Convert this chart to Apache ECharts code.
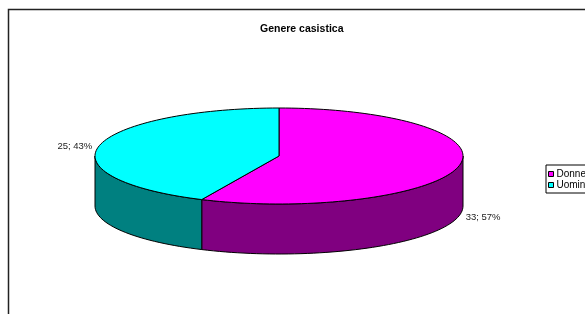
<!DOCTYPE html>
<html>
<head>
<meta charset="utf-8">
<script src="https://cdn.jsdelivr.net/npm/echarts@6/dist/echarts.min.js"></script>
<style>
html, body { margin: 0; padding: 0; background: #fff; }
#main { width: 585px; height: 314px; }
</style>
</head>
<body>
<div id="main"></div>
<script>
var categories = ['Donne', 'Uomini'];
var values = [33, 25];
var topColors = ['#ff00ff', '#00ffff'];
var sideColors = ['#800080', '#008080'];

var total = values.reduce(function (a, b) { return a + b; }, 0);
// flat 3d pie: ellipse + thickness
var pie = { cx: 279, cy: 156, rx: 184, ry: 48, depth: 50 };

function pt(deg, dy) {
  var r = deg * Math.PI / 180;
  return [pie.cx + pie.rx * Math.sin(r), pie.cy - pie.ry * Math.cos(r) + (dy || 0)];
}
function arc(a0, a1, dy) {
  var pts = [], n = Math.max(2, Math.ceil(Math.abs(a1 - a0) / 2));
  for (var k = 0; k <= n; k++) pts.push(pt(a0 + (a1 - a0) * k / n, dy));
  return pts;
}

function renderSlice(params, api) {
  var i = params.seriesIndex;
  var v = api.value(0);
  var before = 0;
  for (var j = 0; j < i; j++) before += values[j];
  var a0 = before / total * 360, a1 = (before + v) / total * 360;
  var children = [];
  // front side only (between 90 and 270 deg clockwise from top)
  var lo = Math.max(a0, 90), hi = Math.min(a1, 270);
  if (lo < hi) {
    children.push({
      type: 'polygon', z2: 1,
      shape: { points: arc(lo, hi, 0).concat(arc(hi, lo, pie.depth)) },
      style: { fill: sideColors[i], stroke: '#000', lineWidth: 1 }
    });
  }
  children.push({
    type: 'polygon', z2: 5,
    shape: { points: [[pie.cx, pie.cy]].concat(arc(a0, a1, 0)) },
    style: { fill: topColors[i], stroke: '#000', lineWidth: 1 }
  });
  var mid = (a0 + a1) / 2, r = mid * Math.PI / 180;
  var lp = pt(mid, Math.cos(r) < 0 ? pie.depth : 0);
  var right = Math.sin(r) >= 0;
  children.push({
    type: 'text', z2: 10,
    x: lp[0] + (right ? 7 : -7), y: lp[1] + 1,
    style: {
      text: v + '; ' + Math.round(v / total * 100) + '%',
      align: right ? 'left' : 'right', verticalAlign: 'middle',
      fontFamily: '"Liberation Sans", Arial, sans-serif', fontSize: 9.5, fill: '#222'
    }
  });
  return { type: 'group', children: children };
}

var series = categories.map(function (name, i) {
  return {
    type: 'custom',
    name: name,
    coordinateSystem: 'none',
    itemStyle: { color: topColors[i] },
    data: [[values[i]]],
    renderItem: renderSlice,
    silent: true
  };
});

var chart = echarts.init(document.getElementById('main'));
chart.setOption({
  animation: false,
  backgroundColor: '#fff',
  title: {
    text: 'Genere casistica',
    left: 260, top: 24, padding: 0,
    textStyle: { fontFamily: '"Liberation Sans", Arial, sans-serif', fontSize: 10.5, fontWeight: 'bold', color: '#000' }
  },
  legend: {
    orient: 'vertical',
    left: 546, top: 165,
    padding: [4, 6, 3, 2],
    itemWidth: 5, itemHeight: 5, itemGap: 1,
    icon: 'rect',
    backgroundColor: '#fff',
    borderColor: '#000', borderWidth: 1,
    itemStyle: { borderColor: '#000', borderWidth: 1 },
    textStyle: { fontFamily: '"Liberation Sans", Arial, sans-serif', fontSize: 10, lineHeight: 9, color: '#000', padding: [0, 0, 0, -2] },
    data: categories
  },
  graphic: [{
    type: 'rect', silent: true, z: -1,
    shape: { x: 8.5, y: 9.5, width: 620, height: 330 },
    style: { fill: 'none', stroke: '#222', lineWidth: 1.5 }
  }],
  series: series
});
</script>
</body>
</html>
